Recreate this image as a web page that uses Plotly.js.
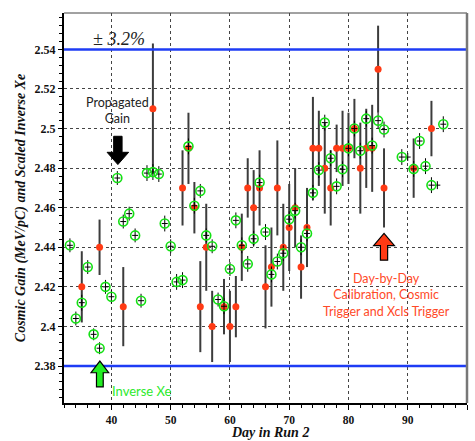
<!DOCTYPE html>
<html><head><meta charset="utf-8">
<script src="https://cdn.plot.ly/plotly-3.0.1.min.js"></script>
<style>html,body{margin:0;padding:0;background:#fff}#chart{width:475px;height:441px}</style>
</head><body><div id="chart"></div>
<script>
// Scaled inverse Xe (green open circles with black crosses)
const xeDays = [33,34,35,36,37,38,39,40,41,42,43,44,45,46,47,48,49,50,51,52,53,54,55,56,57,58,59,60,61,62,63,64,65,66,67,68,69,70,71,72,73,74,75,76,77,78,79,80,81,82,83,84,85,86,89,91,92,93,94,96];
const xeGain = [2.441,2.404,2.412,2.430,2.396,2.389,2.420,2.415,2.475,2.453,2.457,2.446,2.413,2.4775,2.478,2.477,2.452,2.4405,2.4225,2.4234,2.491,2.461,2.4685,2.446,2.4405,2.4136,2.4102,2.429,2.4536,2.441,2.4316,2.4443,2.4727,2.4477,2.4263,2.4328,2.437,2.4542,2.4585,2.440,2.447,2.4675,2.479,2.503,2.485,2.4708,2.4794,2.490,2.500,2.4888,2.505,2.4914,2.504,2.4995,2.4856,2.4796,2.4937,2.481,2.4714,2.5022];
const xeErr = [0.0035,0.0035,0.004,0.0035,0.003,0.003,0.0035,0.0035,0.0035,0.0035,0.0035,0.0035,0.0035,0.004,0.004,0.004,0.004,0.0035,0.004,0.004,0.004,0.004,0.0035,0.0035,0.0035,0.0035,0.004,0.0035,0.004,0.004,0.004,0.004,0.004,0.004,0.004,0.004,0.004,0.004,0.004,0.004,0.004,0.004,0.004,0.004,0.004,0.004,0.004,0.004,0.004,0.004,0.004,0.004,0.004,0.004,0.004,0.004,0.004,0.004,0.004,0.004];
// Crosses without circles
const extraDays = [90,95];
const extraGain = [2.4856,2.4714];
const extraErr = [0.002,0.002];
// Day-by-day cosmic gain (red)
const gainDays = [35,38,42,47,52,53,54,55,56,57,59,60,61,62,63,64,65,66,67,68,69,70,71,72,73,74,75,76,77,78,79,80,81,82,83,84,85,86,91,94];
const gainVals = [2.42,2.44,2.41,2.51,2.47,2.49,2.46,2.41,2.44,2.40,2.41,2.40,2.41,2.44,2.47,2.46,2.47,2.42,2.43,2.47,2.44,2.45,2.46,2.43,2.45,2.49,2.49,2.48,2.47,2.49,2.49,2.49,2.50,2.48,2.49,2.49,2.53,2.47,2.48,2.50];
const gainErr = [0.018,0.014,0.020,0.033,0.019,0.018,0.013,0.023,0.022,0.018,0.014,0.018,0.0155,0.017,0.015,0.019,0.019,0.021,0.020,0.024,0.022,0.022,0.020,0.016,0.020,0.026,0.019,0.023,0.019,0.012,0.019,0.018,0.015,0.023,0.020,0.022,0.022,0.020,0.015,0.014];
const limitLines = [2.54, 2.38];
const xTicks = [40,50,60,70,80,90,100];
const yTicks = [2.38,2.40,2.42,2.44,2.46,2.48,2.50,2.52,2.54];
const yTickLabels = ['2.38','2.4','2.42','2.44','2.46','2.48','2.5','2.52','2.54'];

const serif = 'Liberation Serif, Times New Roman, serif';
const sans = 'Lato, Open Sans, sans-serif';

const traces = [
  {x: gainDays, y: gainVals, type:'scatter', mode:'markers',
   marker:{color:'#ff3a14', size:7, line:{width:0}},
   error_y:{type:'data', array:gainErr, visible:true, color:'#3c3c3c', thickness:2, width:0},
   hoverinfo:'x+y'},
  {x: extraDays, y: extraGain, type:'scatter', mode:'markers',
   marker:{color:'rgba(0,0,0,0)', size:2},
   error_y:{type:'data', array:extraErr, visible:true, color:'#000', thickness:1, width:0},
   error_x:{type:'constant', value:0.5, visible:true, color:'#000', thickness:1, width:0}},
  {x: xeDays, y: xeGain, type:'scatter', mode:'markers',
   marker:{symbol:'circle-open', color:'#14e014', size:9, line:{width:1.6, color:'#14e014'}},
   error_y:{type:'data', array:xeErr, visible:true, color:'#000', thickness:1, width:0},
   error_x:{type:'constant', value:0.5, visible:true, color:'#000', thickness:1, width:0}}
];

const shapes = limitLines.map(v => ({type:'line', xref:'paper', x0:0, x1:1, yref:'y', y0:v, y1:v,
  line:{color:'#1e3cf5', width:2.5}}));
// frame top & right
shapes.push({type:'line', xref:'paper', yref:'paper', x0:0, x1:1, y0:1, y1:1, line:{color:'#444', width:1}});
shapes.push({type:'line', xref:'paper', yref:'paper', x0:1, x1:1, y0:0, y1:1, line:{color:'#777', width:2.5}});
// arrows
shapes.push({type:'path', xref:'x', yref:'y',
  path:'M 40.38,2.4961 L 41.80,2.4961 L 41.80,2.488 L 42.91,2.488 L 41.09,2.4818 L 39.27,2.488 L 40.38,2.488 Z',
  fillcolor:'#000', line:{color:'#000', width:1}});
shapes.push({type:'path', xref:'x', yref:'y',
  path:'M 37.48,2.3694 L 38.62,2.3694 L 38.62,2.3766 L 39.54,2.3766 L 38.05,2.3825 L 36.56,2.3766 L 37.48,2.3766 Z',
  fillcolor:'#22ee22', line:{color:'#000', width:1.2}});
shapes.push({type:'path', xref:'x', yref:'y',
  path:'M 85.39,2.4335 L 86.61,2.4335 L 86.61,2.4408 L 87.76,2.4408 L 86.0,2.447 L 84.24,2.4408 L 85.39,2.4408 Z',
  fillcolor:'#ff3a14', line:{color:'#000', width:1.2}});

const annotations = [
  {x:41.2, y:2.5455, xref:'x', yref:'y', text:'± 3.2%', showarrow:false, xanchor:'center', yanchor:'middle',
   font:{family:serif, size:18, style:'italic', color:'#222'}},
  {x:41.0, y:2.509, xref:'x', yref:'y', text:'Propagated<br>Gain', showarrow:false, xanchor:'center', yanchor:'middle',
   font:{family:sans, size:12.5, color:'#222'}},
  {x:45.1, y:2.3673, xref:'x', yref:'y', text:'Inverse Xe', showarrow:false, xanchor:'center', yanchor:'middle',
   font:{family:sans, size:13, color:'#2cea2c'}},
  {x:86.5, y:2.416, xref:'x', yref:'y', text:'Day-by-Day<br>Calibration, Cosmic<br>Trigger and Xcls Trigger', showarrow:false, xanchor:'center', yanchor:'middle',
   font:{family:sans, size:12.5, color:'#ff4a28'}},
  {x:0.51, y:0, xref:'paper', yref:'paper', yshift:-37.8, text:'Day in Run 2', showarrow:false, xanchor:'center', yanchor:'bottom',
   borderpad:0, font:{family:serif, size:14, weight:'bold', style:'italic', color:'#111'}}
];

const layout = {
  width:475, height:441,
  margin:{l:63.6, r:8.3, t:12.7, b:38.3},
  paper_bgcolor:'#fff', plot_bgcolor:'#fff',
  showlegend:false,
  xaxis:{range:[32,100], tickvals:xTicks, ticktext:xTicks.map(String),
    showgrid:true, gridcolor:'#444', griddash:'dot', gridwidth:1,
    showline:true, linecolor:'#000', linewidth:2, ticks:'outside', ticklen:5, tickcolor:'#000', tickwidth:1,
    minor:{dtick:2, ticks:'outside', ticklen:3, tickcolor:'#000', showgrid:false},
    tickfont:{family:serif, size:11.5, weight:'bold', color:'#111'},
    zeroline:false, fixedrange:true},
  yaxis:{range:[2.3613,2.5584], tickvals:yTicks, ticktext:yTickLabels,
    showgrid:true, gridcolor:'#444', griddash:'dot', gridwidth:1,
    showline:true, linecolor:'#000', linewidth:2, ticks:'outside', ticklen:4, tickcolor:'#000', tickwidth:1,
    minor:{dtick:0.004, tick0:2.38, ticks:'outside', ticklen:3, tickcolor:'#000', showgrid:false},
    tickfont:{family:serif, size:12, weight:'bold', color:'#111'},
    zeroline:false, fixedrange:true,
    title:{text:'Cosmic Gain (MeV/pC) and Scaled Inverse Xe', font:{family:serif, size:14, weight:'bold', style:'italic', color:'#111'}, standoff:6}},
  shapes: shapes,
  annotations: annotations
};

Plotly.newPlot('chart', traces, layout, {displayModeBar:false, staticPlot:true});
</script>
</body></html>
